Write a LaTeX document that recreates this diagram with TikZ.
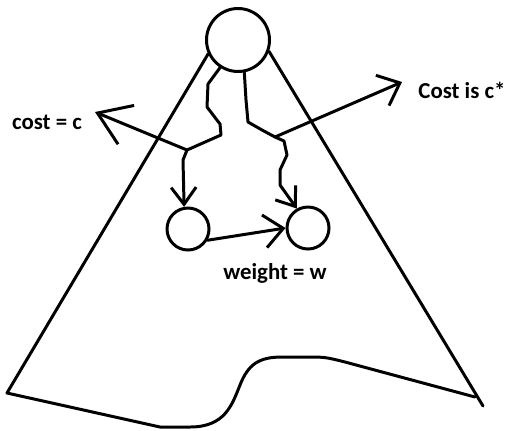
\documentclass[tikz,border=0pt]{standalone}
\usepackage{fontspec}
\setmainfont{Carlito}
\usepackage{tikz}
\usetikzlibrary{arrows.meta}
\tikzset{state/.style={draw, circle, line width=1.7pt, inner sep=0pt},label_t/.style={font=\fontsize{13}{15}\selectfont\bfseries, inner sep=0pt},pen/.style={line width=1.7pt, line join=round, line cap=round},barb/.style={-{Straight Barb[length=0.34cm, width=0.5cm, line width=1.7pt]}}}

\begin{document}
\begin{tikzpicture}[x=0.02cm, y=-0.02cm,
   bigbarb/.style={-{Straight Barb[length=0.62cm, width=0.84cm, line width=1.7pt]}},
   midbarb/.style={-{Straight Barb[length=0.38cm, width=0.66cm, line width=1.7pt]}}]
  \useasboundingbox (0,0) rectangle (506,430);

  % Nodes
  \node[state, minimum size=1.26cm] (root) at (238,40) {};
  \node[state, minimum size=0.84cm] (u) at (188,229) {};
  \node[state, minimum size=0.84cm] (v) at (308,228) {};

  % Search tree outline
  \draw[pen] (root.205) -- (7,393) -- (160,427) -- (190,427)
    .. controls (225,427) and (232,405) .. (240,385)
    .. controls (248,365) and (258,357) .. (282,357) -- (305,357)
    .. controls (325,357) .. (345,362) -- (475,397);
  \draw[pen] (root.340) -- (483,406);

  % Paths from the root
  \coordinate (jl) at (187,150);
  \coordinate (jr) at (275,137);
  \draw[pen, barb] (root.237) -- (208,84) -- (207,107) -- (220,124) -- (221,135)
    -- (jl) -- (183,160) -- (u.100);
  \draw[pen, barb] (root.281) -- (246,100) -- (248,122) -- (262,130) -- (jr)
    -- (284,141) -- (287,155) -- (280,170) -- (280,185) -- (v.120);

  % Costs
  \coordinate (cl) at (95,112);
  \coordinate (cr) at (402,82);
  \draw[pen, bigbarb] (jl) -- (cl);
  \draw[pen, midbarb] (jr) -- (cr);
  \draw[pen, midbarb] (u.-30) -- (v.180);

  % Labels
  \node[label_t] (costc) at (47,122) {cost = c};
  \node[label_t] (coststar) at (462,90) {Cost is c*};
  \node[label_t] (weight) at (275,273) {weight = w};
\end{tikzpicture}
\end{document}
